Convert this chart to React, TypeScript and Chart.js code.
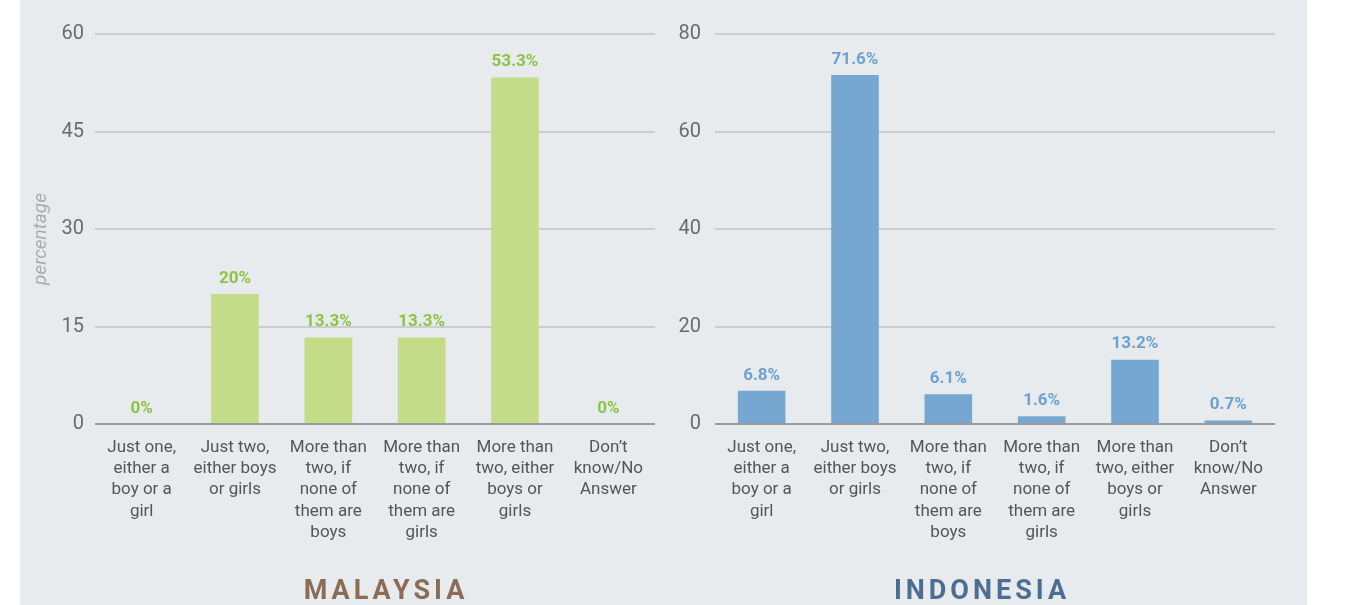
import React, { useEffect, useRef } from "react";
import { Chart, registerables } from "chart.js";

Chart.register(...registerables);

const categories: string[][] = [
  ["Just one,", "either a", "boy or a", "girl"],
  ["Just two,", "either boys", "or girls"],
  ["More than", "two, if", "none of", "them are", "boys"],
  ["More than", "two, if", "none of", "them are", "girls"],
  ["More than", "two, either", "boys or", "girls"],
  ["Don’t", "know/No", "Answer"],
];

const malaysiaValues = [0, 20, 13.3, 13.3, 53.3, 0];
const malaysiaLabels = ["0%", "20%", "13.3%", "13.3%", "53.3%", "0%"];
const indonesiaValues = [6.8, 71.6, 6.1, 1.6, 13.2, 0.7];
const indonesiaLabels = ["6.8%", "71.6%", "6.1%", "1.6%", "13.2%", "0.7%"];

const malaysiaTicks = { max: 60, step: 15 };
const indonesiaTicks = { max: 80, step: 20 };

const yAxisTitle = "percentage";

const FONT = "Roboto, 'Open Sans', sans-serif";

function makeLabelPlugin(labels: string[], color: string) {
  return {
    id: "valueLabels",
    afterDatasetsDraw(chart: any) {
      const ctx = chart.ctx;
      const meta = chart.getDatasetMeta(0);
      ctx.save();
      ctx.font = `bold 17px ${FONT}`;
      ctx.fillStyle = color;
      ctx.textAlign = "center";
      ctx.textBaseline = "bottom";
      meta.data.forEach((bar: any, i: number) => {
        ctx.fillText(labels[i], bar.x, bar.y - 7);
      });
      ctx.restore();
    },
  };
}

function makeAxisTitlePlugin(text: string | null) {
  return {
    id: "axisTitle",
    afterDraw(chart: any) {
      if (!text) return;
      const ctx = chart.ctx;
      const area = chart.chartArea;
      ctx.save();
      ctx.translate(21, (area.top + area.bottom) / 2 + 10);
      ctx.rotate(-Math.PI / 2);
      ctx.font = `italic 19px ${FONT}`;
      ctx.fillStyle = "#a9abac";
      ctx.textAlign = "center";
      ctx.textBaseline = "middle";
      ctx.fillText(text, 0, 0);
      ctx.restore();
    },
  };
}

function BarChart(props: {
  values: number[];
  labels: string[];
  barColor: string;
  labelColor: string;
  max: number;
  step: number;
  width: number;
  axisWidth: number;
  tickPad: number;
  title: string | null;
}) {
  const ref = useRef<HTMLCanvasElement>(null);
  useEffect(() => {
    if (!ref.current) return;
    const chart = new Chart(ref.current, {
      type: "bar",
      data: {
        labels: categories,
        datasets: [
          {
            data: props.values,
            backgroundColor: props.barColor,
            barPercentage: 0.51,
            categoryPercentage: 1,
          },
        ],
      },
      options: {
        responsive: false,
        animation: false,
        layout: { padding: { left: 0, right: 15, top: 34, bottom: 0 } },
        plugins: { legend: { display: false }, tooltip: { enabled: false } },
        scales: {
          x: {
            grid: { display: false, drawTicks: false },
            border: { display: false },
            ticks: {
              color: "#555",
              padding: 13,
              maxRotation: 0,
              autoSkip: false,
              font: { family: FONT, size: 17, lineHeight: 1.25 },
            },
            afterFit(scale: any) {
              scale.height = 181;
            },
          },
          y: {
            min: 0,
            max: props.max,
            grid: {
              drawTicks: false,
              lineWidth: 2,
              color: (c: any) => (c.tick && c.tick.value === 0 ? "#999b9c" : "#cbcdce"),
            },
            border: { display: false },
            ticks: {
              stepSize: props.step,
              color: "#6b6b6b",
              padding: props.tickPad,
              font: { family: FONT, size: 20 },
            },
            afterFit(scale: any) {
              scale.width = props.axisWidth;
            },
          },
        },
      } as any,
      plugins: [makeLabelPlugin(props.labels, props.labelColor), makeAxisTitlePlugin(props.title)],
    });
    return () => chart.destroy();
  }, []);
  return <canvas ref={ref} width={props.width} height={605} style={{ display: "block" }} />;
}

export default function App() {
  return (
    <div
      style={{
        position: "fixed",
        left: 0,
        top: 0,
        width: 1347,
        height: 605,
        background: "#ffffff",
        overflow: "hidden",
      }}
    >
      <div style={{ position: "absolute", left: 20, top: 0, width: 1287, height: 605, background: "#e8ebed" }} />
      <div style={{ position: "absolute", left: 20, top: 0 }}>
        <BarChart
          values={malaysiaValues}
          labels={malaysiaLabels}
          barColor="#c4dc87"
          labelColor="#8dc446"
          max={malaysiaTicks.max}
          step={malaysiaTicks.step}
          width={650}
          axisWidth={75}
          tickPad={11}
          title={yAxisTitle}
        />
      </div>
      <div style={{ position: "absolute", left: 670, top: 0 }}>
        <BarChart
          values={indonesiaValues}
          labels={indonesiaLabels}
          barColor="#76a7d0"
          labelColor="#6ea1cf"
          max={indonesiaTicks.max}
          step={indonesiaTicks.step}
          width={620}
          axisWidth={45}
          tickPad={14}
          title={null}
        />
      </div>
      <div
        style={{
          position: "absolute",
          left: 286,
          width: 200,
          top: 574,
          textAlign: "center",
          fontFamily: FONT,
          fontWeight: 700,
          fontSize: 27,
          letterSpacing: 4,
          color: "#8b6c57",
        }}
      >
        MALAYSIA
      </div>
      <div
        style={{
          position: "absolute",
          left: 882,
          width: 200,
          top: 574,
          textAlign: "center",
          fontFamily: FONT,
          fontWeight: 700,
          fontSize: 27,
          letterSpacing: 4,
          color: "#4c6e92",
        }}
      >
        INDONESIA
      </div>
    </div>
  );
}
